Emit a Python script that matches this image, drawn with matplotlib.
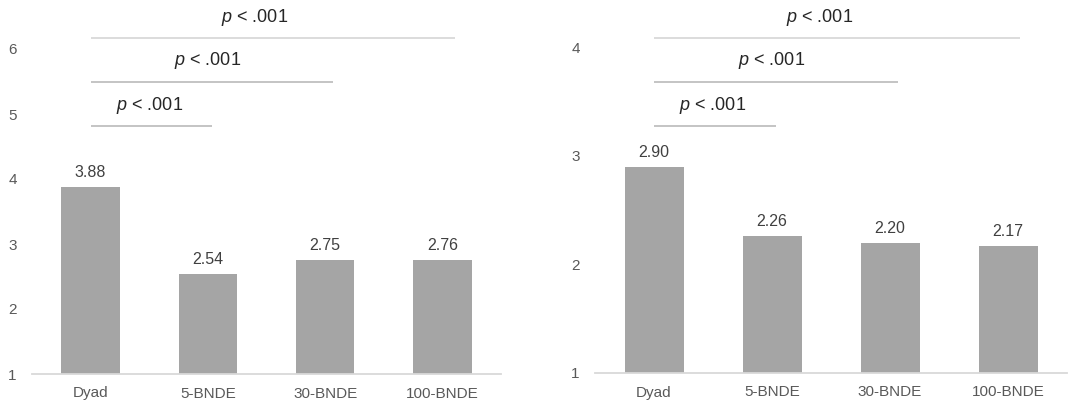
import matplotlib.pyplot as plt
import matplotlib.transforms as mtransforms

plt.rcParams['font.family'] = ['Liberation Sans', 'DejaVu Sans']
plt.rcParams['mathtext.fontset'] = 'custom'
plt.rcParams['mathtext.rm'] = 'Liberation Sans'
plt.rcParams['mathtext.it'] = 'Liberation Sans:italic'

categories = ['Dyad', '5-BNDE', '30-BNDE', '100-BNDE']
left_values = [3.88, 2.54, 2.75, 2.76]
right_values = [2.90, 2.26, 2.20, 2.17]
left_ticks = [1, 2, 3, 4, 5, 6]
right_ticks = [1, 2, 3, 4]
# comparisons: Dyad vs each other condition
pairs = [(0, 1), (0, 2), (0, 3)]
p_labels = ['$p$ < .001', '$p$ < .001', '$p$ < .001']

bar_color = '#A5A5A5'
W, H = 1076, 403

fig = plt.figure(figsize=(W / 100, H / 100), dpi=100)


def draw_panel(rect, values, ticks, ymax):
    ax = fig.add_axes(rect)
    x = range(len(categories))
    ax.bar(x, [v - 1 for v in values], bottom=1, width=0.5, color=bar_color, zorder=2)
    for xi, v in zip(x, values):
        ax.annotate(f'{v:.2f}', (xi, v), xytext=(0, 5), textcoords='offset points',
                    ha='center', va='bottom', fontsize=11.5, color='#404040')
    ax.set_xlim(-0.5, len(categories) - 0.5)
    ax.set_ylim(1, ymax)
    ax.set_yticks(ticks)
    ax.set_xticks(list(x))
    ax.set_xticklabels(categories)
    for s in ['top', 'right', 'left']:
        ax.spines[s].set_visible(False)
    ax.spines['bottom'].set_color('#D9D9D9')
    ax.spines['bottom'].set_linewidth(1.3)
    ax.tick_params(axis='y', length=0, pad=11, labelsize=11, labelcolor='#595959')
    ax.tick_params(axis='x', length=0, pad=9, labelsize=11, labelcolor='#595959')

    # significance brackets, placed in axes-fraction height
    trans = mtransforms.blended_transform_factory(ax.transData, ax.transAxes)
    line_y = [0.663, 0.781, 0.898]
    text_y = [0.717, 0.837, 0.952]
    text_x = [0.5, 1.0, 1.4]
    line_col = ['#BFBFBF', '#BFBFBF', '#D9D9D9']
    for (a, b), lab, ly, ty, tx, lc in zip(pairs, p_labels, line_y, text_y, text_x, line_col):
        ax.plot([a, b + 0.035 * b], [ly, ly], color=lc, lw=1.3, transform=trans,
                clip_on=False, solid_capstyle='butt')
        ax.text(tx, ty, lab, transform=trans, ha='center', va='center',
                fontsize=13, color='#262626')
    return ax


draw_panel([32 / W, (H - 374) / H, 469 / W, 374 / H], left_values, left_ticks, 1 + 374 / 65)
draw_panel([595 / W, (H - 373) / H, 472 / W, 373 / H], right_values, right_ticks, 1 + 373 / 108.5)

fig.savefig('out.png', dpi=100)
